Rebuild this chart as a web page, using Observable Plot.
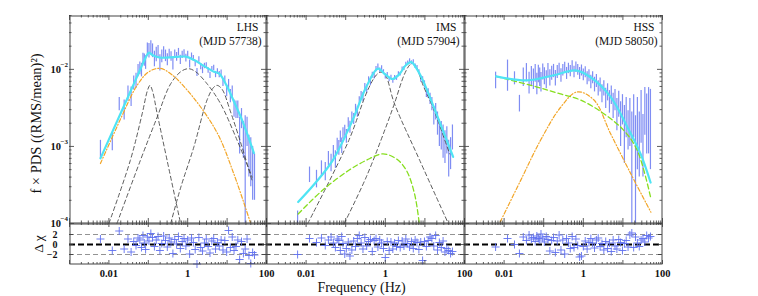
<!DOCTYPE html>
<html><head><meta charset="utf-8">
<script src="https://cdn.jsdelivr.net/npm/d3@7"></script>
<script src="https://cdn.jsdelivr.net/npm/@observablehq/plot@0.6"></script>
<style>
body{margin:0;background:#fff;}
#chart{position:relative;width:758px;height:296px;}
#chart svg{position:absolute;overflow:visible;}
</style></head><body><div id="chart"></div>
<script>
// ---------- labels ----------
const stateNames = ["LHS", "IMS", "HSS"];
const stateDates = ["(MJD 57738)", "(MJD 57904)", "(MJD 58050)"];
const xTickValues = [0.01, 1, 100];
const xTickLabels = ["0.01", "1", "100"];
const yTickValues = [1e-4, 1e-3, 1e-2];
const yTickExponents = ["−4", "−3", "−2"];
const residTickValues = [-2, 0, 2];
const residTickLabels = ["−2", "0", "2"];
const yTitle = "f × PDS ((RMS/mean)²)";
const residTitle = "Δ χ";
const xTitle = "Frequency (Hz)";

// ---------- frequency bins (Hz) ----------
const freq = [0.0061,0.0122,0.0183,0.0244,0.0305,0.0366,0.0427,0.0488,0.0549,0.061,
  0.0671,0.0732,0.0793,0.0854,0.0946,0.104,0.116,0.128,0.143,0.159,
  0.177,0.197,0.220,0.245,0.273,0.304,0.339,0.378,0.421,0.469,
  0.523,0.583,0.650,0.724,0.807,0.899,1.00,1.12,1.25,1.39,
  1.55,1.72,1.92,2.14,2.38,2.66,2.96,3.30,3.68,4.10,
  4.57,5.09,5.67,6.32,7.05,7.85,8.75,9.75,10.9,12.1,
  13.5,15.0,16.8,18.7,20.8,23.2,25.9,28.8,32.1,35.8,
  39.9,44.5,49.6];

// ---------- LHS ----------
const lhsPower = [9.5e-4,1.18e-3,3.6e-3,3.1e-3,5.0e-3,4.6e-3,6.8e-3,7.3e-3,9.8e-3,0.0105,
  0.0100,0.0140,0.0134,0.0125,0.0185,0.0178,0.0195,0.0178,0.0140,0.0160,
  0.0172,0.0125,0.0150,0.0170,0.0152,0.0135,0.0160,0.0148,0.0118,0.0158,
  0.0146,0.0168,0.0134,0.0155,0.0163,0.0141,0.0157,0.0118,0.0150,0.0139,
  0.0119,0.0092,0.0135,0.0109,0.0098,0.0111,0.0113,0.0097,0.0084,0.0101,
  0.0105,0.0086,0.0094,0.0086,0.0090,0.0068,0.0074,0.0052,0.0065,0.0046,
  0.0052,0.0032,0.0031,0.0031,0.0016,0.0024,0.0014,0.0009,0.0017,0.0009,
  0.0008,0.0006,0.0005];
const lhsError = [2.5e-4,3.0e-4,7e-4,9e-4,1.1e-3,1.3e-3,1.4e-3,1.6e-3,1.8e-3,2.0e-3,
  2.0e-3,2.2e-3,2.4e-3,2.5e-3,3.5e-3,3.8e-3,4.0e-3,3.6e-3,3.2e-3,3.4e-3,
  3.2e-3,3.0e-3,2.8e-3,2.7e-3,2.6e-3,2.4e-3,2.2e-3,2.1e-3,2.0e-3,2.0e-3,
  1.9e-3,1.9e-3,1.8e-3,1.7e-3,1.7e-3,1.6e-3,1.5e-3,1.4e-3,1.3e-3,1.2e-3,
  1.1e-3,1.1e-3,1.1e-3,1.0e-3,1.0e-3,9e-4,9e-4,8e-4,8e-4,8e-4,
  8e-4,8e-4,8e-4,8e-4,8e-4,8e-4,8e-4,8e-4,9e-4,9e-4,
  9e-4,8e-4,8e-4,8e-4,8e-4,7e-4,7e-4,1.6e-3,7e-4,5e-4,
  5e-4,4e-4,3e-4];
const lhsResid = [1.1,-1.2,2.7,-0.9,1.1,-1.5,0.6,-0.2,1.3,0.9,
  -0.6,1.8,0.3,-1.0,1.5,0.7,2.2,1.4,-0.4,0.9,
  1.6,-1.2,0.2,1.7,0.8,-0.5,1.3,0.5,-1.8,1.0,
  0.1,1.6,-0.8,0.6,1.2,-0.3,0.9,-1.9,1.3,0.4,
  -1.0,-3.9,1.4,-0.6,-1.3,0.3,1.1,-0.4,-1.7,0.7,
  1.2,-0.9,0.4,-0.3,0.9,-1.1,0.8,-1.5,2.8,-0.6,
  1.5,-1.2,-0.4,0.9,-3.0,0.6,-1.8,-0.9,1.1,-2.2,
  -3.8,-1.6,-2.1];
const lhsModel = [[0.0061,7.0e-4],[0.0244,3.4e-3],[0.061,9.7e-3],[0.085,0.0141],[0.104,0.0165],[0.13,0.0152],[0.2,0.0142],[0.5,0.0145],[0.9,0.0146],[1.5,0.0131],[2.5,0.0112],[4.5,0.0094],[6.3,0.0088],[9.7,0.0062],[15,0.0038],[24,0.0022],[48,8.2e-4]];
const lhsLorentzA = [[0.01,1e-4],[0.035,6.6e-4],[0.07,0.00266],[0.095,0.0053],[0.11,0.0062],[0.127,0.0053],[0.168,0.00266],[0.30,6.6e-4],[0.66,1e-4]];
const lhsLorentzB = [[0.016,1e-4],[0.063,6.6e-4],[0.168,0.0024],[0.37,0.0065],[0.7,0.0095],[1.07,0.0102],[1.6,0.0093],[3.1,0.0065],[6.8,0.0036],[18,0.0012],[43,4e-4]];
const lhsLorentzC = [[0.37,1e-4],[0.66,2.9e-4],[1.43,9.8e-4],[3.1,0.0040],[4.5,0.0058],[5.6,0.0062],[7.5,0.0055],[12,0.0029],[24,9.8e-4],[43,3.6e-4]];
const lhsOrange = [[0.0061,6.0e-4],[0.02,2.3e-3],[0.05,6.0e-3],[0.1,0.0092],[0.2,0.0103],[0.4,0.0085],[1.4,0.0043],[5.6,0.0015],[14.6,4.5e-4],[39,1.03e-4]];

// ---------- IMS ----------
const imsPower = [1.0e-4,4.4e-4,3.9e-4,5.3e-4,4.9e-4,7.1e-4,6.3e-4,8.6e-4,7.0e-4,1.08e-3,
  9.8e-4,1.35e-3,1.05e-3,1.50e-3,1.62e-3,1.38e-3,2.05e-3,1.80e-3,2.45e-3,2.30e-3,
  3.1e-3,2.85e-3,3.9e-3,4.6e-3,4.4e-3,5.9e-3,5.6e-3,7.3e-3,6.9e-3,8.4e-3,
  8.3e-3,0.0101,0.0109,0.0097,0.0104,0.0093,0.0081,0.0086,0.0074,0.0079,
  0.0071,0.0078,0.0077,0.0088,0.0087,0.0101,0.0103,0.0118,0.0121,0.0130,
  0.0122,0.0126,0.0110,0.0105,0.0092,0.0075,0.0073,0.0064,0.0050,0.0049,
  0.0042,0.0036,0.0026,0.0029,0.0021,0.0016,0.0015,0.0013,0.0011,0.0013,
  0.0008,0.0009,0.0014];
const imsError = [0.45e-4,1.0e-4,1.0e-4,1.2e-4,1.3e-4,1.5e-4,1.6e-4,1.7e-4,1.8e-4,2.0e-4,
  2.1e-4,2.3e-4,2.4e-4,2.5e-4,2.6e-4,2.8e-4,3.0e-4,3.2e-4,3.5e-4,3.8e-4,
  4.2e-4,4.6e-4,5.0e-4,5.5e-4,6.0e-4,6.5e-4,6.8e-4,7.0e-4,7.2e-4,7.5e-4,
  7.8e-4,8e-4,8e-4,7e-4,7e-4,6e-4,6e-4,5e-4,5e-4,5e-4,
  5e-4,5e-4,5e-4,5e-4,5e-4,6e-4,6e-4,6e-4,7e-4,7e-4,
  7e-4,7e-4,7e-4,7e-4,7e-4,7e-4,7e-4,7e-4,7e-4,7e-4,
  7e-4,7e-4,7e-4,7e-4,7e-4,6e-4,6e-4,6e-4,5e-4,5e-4,
  4e-4,4e-4,5e-4];
const imsResid = [-2.0,1.2,0.4,1.3,-0.2,0.9,1.5,0.3,-0.6,1.1,
  0.8,-1.2,1.6,0.2,-1.9,-0.8,0.5,-2.3,-1.1,0.7,
  -0.4,1.2,1.8,0.3,-0.9,1.4,-0.3,0.6,1.0,-1.4,
  0.8,1.2,-0.5,0.9,0.3,-0.8,-2.6,0.6,-1.2,0.5,
  -0.9,0.3,-0.4,0.8,-0.6,0.7,-0.3,1.1,0.2,-0.5,
  0.6,-0.8,0.9,0.4,-1.0,0.5,-3.2,0.6,-0.4,0.8,
  1.5,1.2,-0.3,1.8,-1.1,0.4,-0.6,0.7,-1.5,-0.8,
  -1.2,-1.8,-1.4];
const imsModel = [[0.0063,1.9e-4],[0.0175,3.4e-4],[0.047,6.6e-4],[0.15,0.0022],[0.33,0.0059],[0.65,0.0102],[1.0,0.0086],[1.5,0.0075],[2.2,0.0085],[3.3,0.0113],[4.5,0.0124],[6.3,0.0101],[8.9,0.0072],[19.5,0.00266],[51.7,7.3e-4]];
const imsLorentzD = [[0.011,1e-4],[0.12,0.0012],[0.35,0.0052],[0.6,0.0085],[0.78,0.0092],[1.0,0.0085],[1.7,0.0036],[7.4,6.6e-4],[39,1e-4]];
const imsLorentzE = [[0.092,1e-4],[0.33,4e-4],[1.0,0.0017],[1.7,0.0036],[3.0,0.0085],[4.2,0.0115],[5,0.0119],[6.2,0.0105],[9,0.0062],[16,0.0032],[42,8e-4]];
const imsGreen = [[0.0063,1.33e-4],[0.026,2.7e-4],[0.12,4.9e-4],[0.33,6.6e-4],[0.87,8e-4],[1.9,6.9e-4],[3.4,4.9e-4],[5.5,2.4e-4],[7.2,1.0e-4]];

// ---------- HSS ----------
const hssPower = [0.0074,0.0092,0.0078,0.0037,0.0082,0.0094,0.0070,0.0085,0.0078,0.0092,
  0.0068,0.0090,0.0082,0.0071,0.0095,0.0084,0.0076,0.0098,0.0080,0.0091,
  0.0097,0.0079,0.0094,0.0102,0.0085,0.0099,0.0107,0.0090,0.0104,0.0096,
  0.0112,0.0094,0.0108,0.0100,0.0090,0.0098,0.0086,0.0093,0.0078,0.0084,
  0.0070,0.0079,0.0065,0.0072,0.0058,0.0064,0.0050,0.0058,0.0044,0.0052,
  0.0040,0.0048,0.0036,0.0042,0.0029,0.0038,0.0024,0.0033,0.0020,0.0028,
  0.0019,0.0026,0.0014,0.0030,0.0012,0.0024,0.0016,0.0032,0.0015,0.0036,
  0.0028,0.0033,0.0030];
const hssError = [0.0018,0.0040,0.0015,0.0009,0.0022,0.0025,0.0022,0.0024,0.0023,0.0024,
  0.0021,0.0023,0.0022,0.0020,0.0022,0.0021,0.0020,0.0021,0.0019,0.0019,
  0.0019,0.0018,0.0018,0.0018,0.0017,0.0017,0.0017,0.0016,0.0016,0.0016,
  0.0017,0.0016,0.0017,0.0016,0.0016,0.0016,0.0015,0.0015,0.0015,0.0015,
  0.0014,0.0014,0.0014,0.0014,0.0013,0.0013,0.0013,0.0013,0.0013,0.0013,
  0.0013,0.0013,0.0013,0.0013,0.0013,0.0014,0.0014,0.0014,0.0014,0.0015,
  0.0010,0.0016,0.0014,0.0017,0.0013,0.0019,0.0012,0.0021,0.0011,0.0022,
  0.0020,0.0025,0.0025];
const hssResid = [-0.5,1.2,0.0,-1.8,1.5,0.8,1.9,1.1,1.4,0.6,
  1.7,1.2,0.9,2.1,1.3,0.5,1.6,1.0,-1.3,0.8,
  1.4,-1.6,0.7,1.9,-1.1,0.9,-1.9,1.2,0.3,-0.8,
  1.6,-0.6,1.1,-0.2,-2.5,-2.3,-0.4,0.7,-0.9,0.4,
  1.2,0.3,-0.7,0.9,1.3,-0.4,0.2,-1.1,0.6,-0.8,
  0.3,-1.4,0.9,-0.3,-0.9,1.0,0.4,-1.2,0.2,0.8,
  -0.5,1.9,2.3,-0.6,1.5,0.3,-0.4,0.9,1.2,0.5,
  1.8,1.3,1.6];
const hssModel = [[0.0063,0.0081],[0.038,0.0072],[0.18,0.0084],[0.64,0.0097],[1.53,0.0079],[4.9,0.0044],[13,0.00178],[28,8e-4],[50,3.4e-4]];
const hssGreen = [[0.0063,0.0081],[0.068,0.0059],[0.265,0.0048],[0.85,0.0040],[3.3,0.00266],[10.7,0.0016],[23,8.9e-4],[51,2.1e-4]];
const hssOrange = [[0.008,1.05e-4],[0.026,3.6e-4],[0.083,0.0012],[0.265,0.0032],[0.70,0.0051],[1.86,0.0040],[4.9,0.00146],[15.9,4.4e-4],[51,1.4e-4]];

// ---------- build ----------
const xDomain = [0.001, 100], yDomain = [1e-4, 0.05], rDomain = [-4, 4.2];
const panelLeft = [69, 266, 464], panelWidth = [197, 198, 198];
const mainTop = 15, mainH = 208, resTop = 223, resH = 41;
const FONT = "'Liberation Serif','Times New Roman',serif";
const TICK = "#333";

const isDecade = v => Math.abs(Math.log10(v) - Math.round(Math.log10(v))) < 1e-6;
const xAll = d3.scaleLog().domain(xDomain).ticks();
const xMaj = xAll.filter(isDecade), xMin = xAll.filter(v => !isDecade(v));
const yAll = d3.scaleLog().domain(yDomain).ticks();
const yMaj = yAll.filter(isDecade), yMin = yAll.filter(v => !isDecade(v));

function ticks(H, W, xMa, xMi, yMa, yMi, lMa, lMi) {
  const o = {stroke: TICK, strokeWidth: 0.8};
  return [
    Plot.ruleX(xMa, {x: d => d, insetTop: H - lMa, ...o}),
    Plot.ruleX(xMa, {x: d => d, insetBottom: H - lMa, ...o}),
    Plot.ruleX(xMi, {x: d => d, insetTop: H - lMi, ...o}),
    Plot.ruleX(xMi, {x: d => d, insetBottom: H - lMi, ...o}),
    Plot.ruleY(yMa, {y: d => d, insetRight: W - lMa, ...o}),
    Plot.ruleY(yMa, {y: d => d, insetLeft: W - lMa, ...o}),
    Plot.ruleY(yMi, {y: d => d, insetRight: W - lMi, ...o}),
    Plot.ruleY(yMi, {y: d => d, insetLeft: W - lMi, ...o})
  ];
}

const panels = [
  {power: lhsPower, err: lhsError, resid: lhsResid, model: lhsModel,
   comps: [[lhsLorentzA, "black"], [lhsLorentzB, "black"], [lhsLorentzC, "black"], [lhsOrange, "orange"]]},
  {power: imsPower, err: imsError, resid: imsResid, model: imsModel,
   comps: [[imsLorentzD, "black"], [imsLorentzE, "black"], [imsGreen, "green"]]},
  {power: hssPower, err: hssError, resid: hssResid, model: hssModel,
   comps: [[hssOrange, "orange"], [hssGreen, "green"]]}
];
const compStyle = {
  black: {stroke: "#4a4a4a", strokeWidth: 0.9, strokeDasharray: "4,3"},
  orange: {stroke: "#f2a527", strokeWidth: 1.2, strokeDasharray: "4,2,1,2"},
  green: {stroke: "#86de1e", strokeWidth: 1.3, strokeDasharray: "5,3"}
};
const BLUE = "#5f70f0";

const chart = document.getElementById("chart");

panels.forEach((p, i) => {
  const W = panelWidth[i];
  const rows = freq.map((f, k) => ({
    f,
    lo: Math.max(p.power[k] - p.err[k], yDomain[0]),
    hi: Math.min(p.power[k] + p.err[k], yDomain[1]),
    r: p.resid[k]
  }));

  const mainMarks = [
    Plot.ruleX(rows, {x: "f", y1: "lo", y2: "hi", stroke: BLUE, strokeOpacity: 0.8, strokeWidth: 1.2}),
    ...p.comps.map(([c, s]) => Plot.line(c, {x: d => d[0], y: d => d[1], curve: "catmull-rom", ...compStyle[s]})),
    Plot.line(p.model, {x: d => d[0], y: d => d[1], curve: "catmull-rom", stroke: "#4fe4f4", strokeWidth: 2.2}),
    ...ticks(mainH, W, xMaj, xMin, yMaj, yMin, 5, 2.5),
    Plot.frame({stroke: "#444", strokeWidth: 1, inset: 0.5}),
    Plot.text([stateNames[i]], {text: d => d, frameAnchor: "top-right", textAnchor: "end", lineAnchor: "middle", dx: -8, dy: 11.5, fontSize: 11.5, fill: "#111"}),
    Plot.text([stateDates[i]], {text: d => d, frameAnchor: "top-right", textAnchor: "end", lineAnchor: "middle", dx: -5, dy: 25.5, fontSize: 11.5, fill: "#111"})
  ];
  if (i === 0) {
    mainMarks.push(
      Plot.text(yTickValues, {y: d => d, text: () => "10", frameAnchor: "left", textAnchor: "end", lineAnchor: "middle", dx: -8.5, fontSize: 10.5, fontWeight: "bold", fill: "#111"}),
      Plot.text(yTickValues, {y: d => d, text: (d, k) => yTickExponents[k], frameAnchor: "left", textAnchor: "end", lineAnchor: "middle", dx: -1.5, dy: -4.5, fontSize: 7, fontWeight: "bold", fill: "#111"}),
      Plot.text([yTitle], {text: d => d, frameAnchor: "left", textAnchor: "middle", rotate: -90, dx: -33, dy: 4, fontSize: 14.5, lineAnchor: "middle", fill: "#111"})
    );
  }
  const main = Plot.plot({
    width: W, height: mainH, margin: 0,
    x: {type: "log", domain: xDomain, axis: null},
    y: {type: "log", domain: yDomain, axis: null},
    style: {overflow: "visible", background: "none", fontFamily: FONT, fontSize: "11px"},
    marks: mainMarks
  });
  main.style.left = panelLeft[i] + "px";
  main.style.top = mainTop + "px";
  chart.appendChild(main);

  const resMarks = [
    Plot.ruleY([-2, 2], {y: d => d, stroke: "#777", strokeWidth: 0.8, strokeDasharray: "5,3"}),
    Plot.ruleY([0], {y: d => d, stroke: "#000", strokeWidth: 1.8, strokeDasharray: "6,3"}),
    Plot.dot(rows, {x: "f", y: "r", symbol: "plus", r: 2.7, stroke: BLUE, strokeWidth: 1, strokeOpacity: 0.9}),
    ...ticks(resH, W, xMaj, xMin, residTickValues, [], 4, 2),
    Plot.frame({stroke: "#444", strokeWidth: 1, inset: 0.5}),
    Plot.text(xTickValues, {x: d => d, text: (d, k) => xTickLabels[k], frameAnchor: "bottom", lineAnchor: "middle", dy: 9.5, fontSize: 10.5, fontWeight: "bold", fill: "#111"})
  ];
  if (i === 0) {
    resMarks.push(
      Plot.text(residTickValues, {y: d => d, text: (d, k) => residTickLabels[k], frameAnchor: "left", textAnchor: "end", lineAnchor: "middle", dx: -12, fontSize: 10, fontWeight: "bold", fill: "#111"}),
      Plot.text([residTitle], {text: d => d, frameAnchor: "left", textAnchor: "middle", rotate: -90, dx: -31, fontSize: 13.5, lineAnchor: "middle", fill: "#111"})
    );
  }
  if (i === 1) {
    resMarks.push(Plot.text([xTitle], {text: d => d, frameAnchor: "bottom", textAnchor: "middle", lineAnchor: "middle", dx: -4, dy: 23, fontSize: 14, fill: "#111"}));
  }
  const res = Plot.plot({
    width: W, height: resH, margin: 0,
    x: {type: "log", domain: xDomain, axis: null},
    y: {domain: rDomain, axis: null},
    style: {overflow: "visible", background: "none", fontFamily: FONT, fontSize: "11px"},
    marks: resMarks
  });
  res.style.left = panelLeft[i] + "px";
  res.style.top = resTop + "px";
  chart.appendChild(res);
});
</script></body></html>
